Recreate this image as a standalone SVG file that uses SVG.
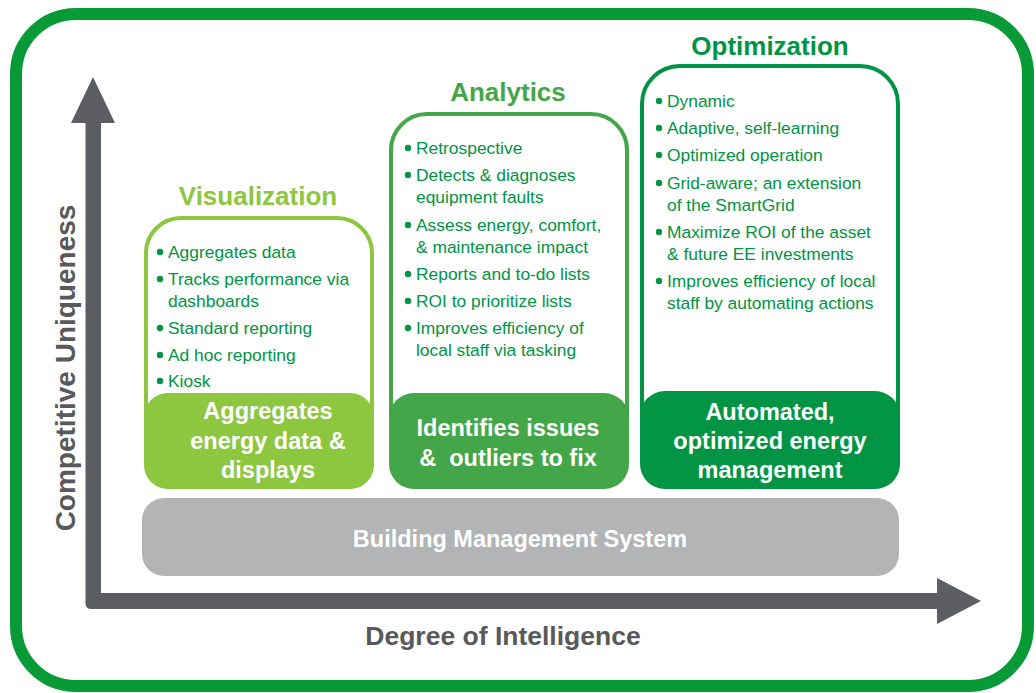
<svg xmlns="http://www.w3.org/2000/svg" width="1036" height="693" viewBox="0 0 1036 693">
<style>
  text { font-family: "Liberation Sans", Arial, sans-serif; }
  .b { font-size: 17.4px; fill: #009444; }
  .dot { fill: #009444; }
  .title { font-size: 26px; font-weight: bold; text-anchor: middle; }
  .ft { font-size: 23.5px; font-weight: bold; fill: #ffffff; text-anchor: middle; }
  .axis { font-weight: bold; fill: #58595b; text-anchor: middle; }
</style>
<rect x="0" y="0" width="1036" height="693" fill="#ffffff"/>
<rect id="frame" x="16" y="14" width="1012" height="672" rx="60" ry="60" fill="none" stroke="#079a37" stroke-width="12"/>

<g id="connectors">
  <path d="M85.5,123 L85.5,603 Q85.5,609 91.5,609 L937,609 L937,624 L981,601 L937,578 L937,593 L101,593 L101,123 L115,123 L93,77 L71,123 Z" fill="#5d5e63"/>
</g>

<g id="bms">
  <rect x="142" y="498" width="757" height="78" rx="22" ry="22" fill="#b3b4b6"/>
  <text x="520" y="547" font-size="23.5" font-weight="bold" fill="#ffffff" text-anchor="middle">Building Management System</text>
</g>

<g id="axis-x-label">
  <text class="axis" x="503" y="645" font-size="26.5">Degree of Intelligence</text>
</g>
<g id="axis-y-label">
  <text class="axis" x="0" y="0" font-size="28" transform="translate(74.5,368) rotate(-90)">Competitive Uniqueness</text>
</g>

<g id="visualization">
  <text class="title" x="258" y="205" fill="#8dc63f">Visualization</text>
  <rect x="146" y="218" width="226" height="260" rx="35" ry="35" fill="#ffffff" stroke="#8dc63f" stroke-width="4"/>
  <circle class="dot" cx="160" cy="252" r="3.2"/><text class="b" x="168" y="258">Aggregates data</text>
  <circle class="dot" cx="160" cy="279" r="3.2"/><text class="b" x="168" y="285">Tracks performance via</text>
  <text class="b" x="168" y="307">dashboards</text>
  <circle class="dot" cx="160" cy="328" r="3.2"/><text class="b" x="168" y="334">Standard reporting</text>
  <circle class="dot" cx="160" cy="355" r="3.2"/><text class="b" x="168" y="361">Ad hoc reporting</text>
  <circle class="dot" cx="160" cy="381" r="3.2"/><text class="b" x="168" y="387">Kiosk</text>
  <rect x="144" y="393" width="230" height="96" rx="24" ry="24" fill="#8dc63f"/>
  <text class="ft" x="268" y="419">Aggregates</text>
  <text class="ft" x="268" y="449">energy data &amp;</text>
  <text class="ft" x="268" y="478">displays</text>
</g>

<g id="analytics">
  <text class="title" x="508" y="101" fill="#43a648">Analytics</text>
  <rect x="391" y="114" width="236" height="360" rx="36" ry="36" fill="#ffffff" stroke="#43a648" stroke-width="4"/>
  <circle class="dot" cx="408" cy="148" r="3.2"/><text class="b" x="416" y="154">Retrospective</text>
  <circle class="dot" cx="408" cy="175" r="3.2"/><text class="b" x="416" y="181">Detects &amp; diagnoses</text>
  <text class="b" x="416" y="203">equipment faults</text>
  <circle class="dot" cx="408" cy="225" r="3.2"/><text class="b" x="416" y="231">Assess energy, comfort,</text>
  <text class="b" x="416" y="253">&amp; maintenance impact</text>
  <circle class="dot" cx="408" cy="274" r="3.2"/><text class="b" x="416" y="280">Reports and to-do lists</text>
  <circle class="dot" cx="408" cy="301" r="3.2"/><text class="b" x="416" y="307">ROI to prioritize lists</text>
  <circle class="dot" cx="408" cy="328" r="3.2"/><text class="b" x="416" y="334">Improves efficiency of</text>
  <text class="b" x="416" y="356">local staff via tasking</text>
  <rect x="389" y="393" width="240" height="96" rx="25" ry="25" fill="#43a648"/>
  <text class="ft" x="508" y="436">Identifies issues</text>
  <text class="ft" x="508" y="466" xml:space="preserve">&amp;  outliers to fix</text>
</g>

<g id="optimization">
  <text class="title" x="770" y="55" fill="#009444">Optimization</text>
  <rect x="642" y="66" width="256" height="400" rx="38" ry="38" fill="#ffffff" stroke="#009444" stroke-width="4"/>
  <circle class="dot" cx="659" cy="101" r="3.2"/><text class="b" x="667" y="107">Dynamic</text>
  <circle class="dot" cx="659" cy="128" r="3.2"/><text class="b" x="667" y="134">Adaptive, self-learning</text>
  <circle class="dot" cx="659" cy="155" r="3.2"/><text class="b" x="667" y="161">Optimized operation</text>
  <circle class="dot" cx="659" cy="183" r="3.2"/><text class="b" x="667" y="189">Grid-aware; an extension</text>
  <text class="b" x="667" y="211">of the SmartGrid</text>
  <circle class="dot" cx="659" cy="232" r="3.2"/><text class="b" x="667" y="238">Maximize ROI of the asset</text>
  <text class="b" x="667" y="260">&amp; future EE investments</text>
  <circle class="dot" cx="659" cy="281" r="3.2"/><text class="b" x="667" y="287">Improves efficiency of local</text>
  <text class="b" x="667" y="309">staff by automating actions</text>
  <rect x="640" y="391" width="260" height="98" rx="25" ry="25" fill="#009444"/>
  <text class="ft" x="770" y="420">Automated,</text>
  <text class="ft" x="770" y="449">optimized energy</text>
  <text class="ft" x="770" y="478">management</text>
</g>
</svg>
